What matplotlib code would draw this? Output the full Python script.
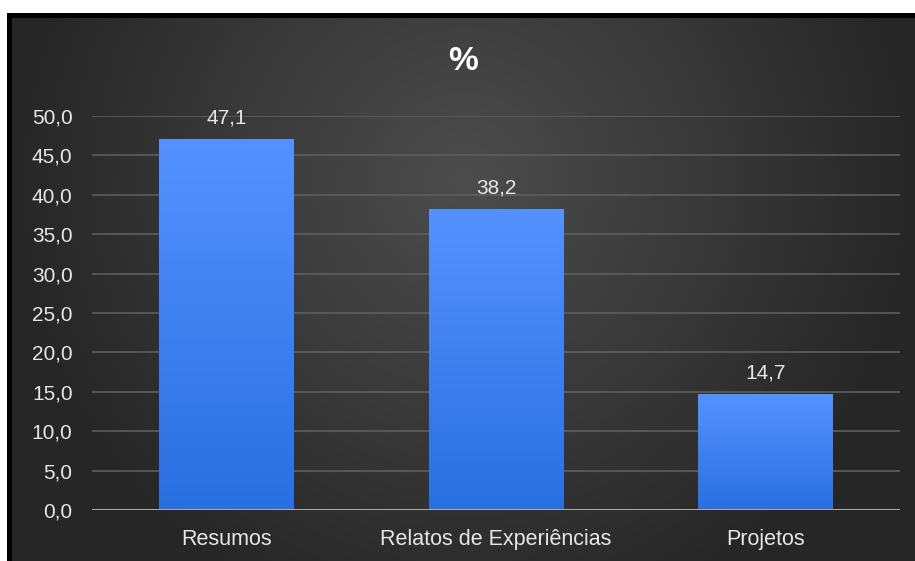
import numpy as np
import matplotlib
matplotlib.use("Agg")
import matplotlib.pyplot as plt
from matplotlib.colors import LinearSegmentedColormap

categorias = ["Resumos", "Relatos de Experiências", "Projetos"]
valores = [47.1, 38.2, 14.7]
rotulos = ["47,1", "38,2", "14,7"]
ticks = [0, 5, 10, 15, 20, 25, 30, 35, 40, 45, 50]

W, H = 915, 561
fig = plt.figure(figsize=(W / 100, H / 100), dpi=100, facecolor="white")

# black frame + dark radial background
frame = fig.add_axes([7 / W, 0, (W - 7) / W, (H - 13) / H])
frame.set_axis_off()
frame.add_patch(plt.Rectangle((0, 0), 1, 1, color="black", transform=frame.transAxes))
bg = fig.add_axes([12 / W, 0, (W - 12) / W, (H - 18) / H])
bg.set_axis_off()
yy, xx = np.mgrid[0:200, 0:300]
r = np.sqrt(((xx - 150) / 150) ** 2 + ((yy - 60) / 170) ** 2)
r = np.clip(r, 0, 1)
bg_cmap = LinearSegmentedColormap.from_list("bg", ["#4c4c4c", "#3a3a3a", "#262626"])
bg.imshow(r, cmap=bg_cmap, aspect="auto", extent=[0, 1, 0, 1], vmin=0, vmax=1)
bg.set_xlim(0, 1)
bg.set_ylim(0, 1)

# plot area: x 92..900, y(0)=510, y(50)=116
x0, x1 = 92, 900
yb, yt = 510, 116
ax = fig.add_axes([x0 / W, (H - yb) / H, (x1 - x0) / W, (yb - yt) / H])
ax.patch.set_alpha(0)

for t in ticks[1:]:
    ax.axhline(t, color="#5e5e5e", linewidth=1.2, zorder=1)
ax.axhline(0, color="#a8a8a8", linewidth=2.2, zorder=4)

bar_cmap = LinearSegmentedColormap.from_list("bar", ["#2a6fe0", "#5592ff"])
grad = np.linspace(0, 1, 256).reshape(-1, 1)
barras = ax.bar(range(len(categorias)), valores, width=0.5, color="none", zorder=2)
for b in barras:
    img = ax.imshow(grad, cmap=bar_cmap, origin="lower", aspect="auto",
                    extent=[b.get_x(), b.get_x() + b.get_width(), 0, b.get_height()],
                    zorder=3)
    img.set_clip_path(b)
ax.set_xlim(-0.5, 2.5)
ax.set_ylim(0, 50)

fonte = "Liberation Sans"
for i, (v, lab) in enumerate(zip(valores, rotulos)):
    ax.text(i, v + 1.5, lab, ha="center", va="bottom", color="#e6e6e6", fontsize=15,
            fontfamily=fonte)

ax.set_yticks(ticks)
ax.set_yticklabels([f"{t:.1f}".replace(".", ",") for t in ticks], color="#e6e6e6",
                   fontsize=15, fontfamily=fonte)
ax.set_xticks(range(len(categorias)))
ax.set_xticklabels(categorias, color="#e6e6e6", fontsize=15.5, fontfamily=fonte)
ax.tick_params(axis="y", length=0, pad=14)
ax.tick_params(axis="x", length=0, pad=14)
for s in ax.spines.values():
    s.set_visible(False)

fig.text(463 / W, 1 - 62 / H, "%", ha="center", va="center", color="white",
         fontsize=24, fontweight="bold", fontfamily=fonte)

fig.savefig("out.png", dpi=100, facecolor="white")
